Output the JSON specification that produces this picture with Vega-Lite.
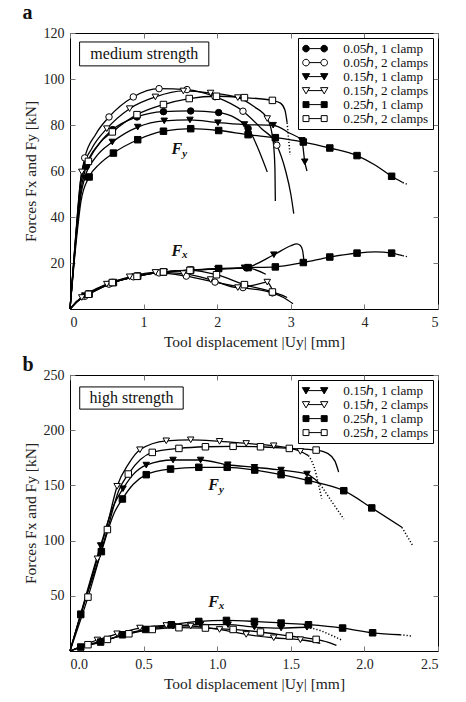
{
  "$schema": "https://vega.github.io/schema/vega-lite/v6.json",
  "background": "white",
  "padding": {"left": 21, "top": 2, "right": 0, "bottom": 0},
  "spacing": 4,
  "config": {
    "font": "Liberation Serif",
    "view": {"stroke": "black", "strokeWidth": 1},
    "axis": {
      "labelFont": "Liberation Serif", "labelFontSize": 14, "labelColor": "#222",
      "titleFont": "Liberation Serif", "titleFontSize": 15.5, "titleFontWeight": "normal", "titleColor": "#222",
      "domain": false, "grid": false, "tickColor": "#777", "tickSize": -5, "labelPadding": 11, "titlePadding": 5
    },
    "legend": {
      "orient": "top-right", "offset": 5, "padding": 4, "strokeColor": "black", "fillColor": "white",
      "cornerRadius": 0, "symbolSize": 49, "symbolStrokeWidth": 1, "symbolOffset": 6.5, "labelOffset": 21.6,
      "labelFont": "Liberation Serif", "labelFontSize": 13.2, "labelColor": "#111", "rowPadding": 0, "labelLimit": 0
    }
  },
  "datasets": {
    "aLine": [
      {"s":"0.05h, 1 clamp","c":"Fy","x":0,"y":0},{"s":"0.05h, 1 clamp","c":"Fy","x":0.08,"y":30},{"s":"0.05h, 1 clamp","c":"Fy","x":0.15,"y":52},{"s":"0.05h, 1 clamp","c":"Fy","x":0.22,"y":62},{"s":"0.05h, 1 clamp","c":"Fy","x":0.4,"y":72},{"s":"0.05h, 1 clamp","c":"Fy","x":0.58,"y":78},{"s":"0.05h, 1 clamp","c":"Fy","x":0.91,"y":83.5},{"s":"0.05h, 1 clamp","c":"Fy","x":1.27,"y":85.8},{"s":"0.05h, 1 clamp","c":"Fy","x":1.64,"y":86.1},{"s":"0.05h, 1 clamp","c":"Fy","x":2.02,"y":85.4},{"s":"0.05h, 1 clamp","c":"Fy","x":2.25,"y":83},{"s":"0.05h, 1 clamp","c":"Fy","x":2.42,"y":78.5},{"s":"0.05h, 1 clamp","c":"Fy","x":2.68,"y":59.6},
      {"s":"0.05h, 1 clamp","c":"Fx","x":0,"y":0},{"s":"0.05h, 1 clamp","c":"Fx","x":0.1,"y":3.5},{"s":"0.05h, 1 clamp","c":"Fx","x":0.25,"y":6.5},{"s":"0.05h, 1 clamp","c":"Fx","x":0.58,"y":11.5},{"s":"0.05h, 1 clamp","c":"Fx","x":0.92,"y":14.3},{"s":"0.05h, 1 clamp","c":"Fx","x":1.27,"y":16.1},{"s":"0.05h, 1 clamp","c":"Fx","x":1.64,"y":16.9},{"s":"0.05h, 1 clamp","c":"Fx","x":2.02,"y":17.4},{"s":"0.05h, 1 clamp","c":"Fx","x":2.4,"y":17.9},{"s":"0.05h, 1 clamp","c":"Fx","x":2.66,"y":15.1},
      {"s":"0.05h, 2 clamps","c":"Fy","x":0,"y":0},{"s":"0.05h, 2 clamps","c":"Fy","x":0.08,"y":33},{"s":"0.05h, 2 clamps","c":"Fy","x":0.14,"y":55},{"s":"0.05h, 2 clamps","c":"Fy","x":0.2,"y":65.7},{"s":"0.05h, 2 clamps","c":"Fy","x":0.35,"y":76},{"s":"0.05h, 2 clamps","c":"Fy","x":0.53,"y":83.5},{"s":"0.05h, 2 clamps","c":"Fy","x":0.86,"y":92.2},{"s":"0.05h, 2 clamps","c":"Fy","x":1.21,"y":95.8},{"s":"0.05h, 2 clamps","c":"Fy","x":1.59,"y":95.4},{"s":"0.05h, 2 clamps","c":"Fy","x":1.97,"y":92.3},{"s":"0.05h, 2 clamps","c":"Fy","x":2.35,"y":86},{"s":"0.05h, 2 clamps","c":"Fy","x":2.6,"y":78.5},{"s":"0.05h, 2 clamps","c":"Fy","x":2.81,"y":71.2},{"s":"0.05h, 2 clamps","c":"Fy","x":2.93,"y":60},{"s":"0.05h, 2 clamps","c":"Fy","x":3.0,"y":50},{"s":"0.05h, 2 clamps","c":"Fy","x":3.04,"y":41.5},
      {"s":"0.05h, 2 clamps","c":"Fx","x":0,"y":0},{"s":"0.05h, 2 clamps","c":"Fx","x":0.1,"y":3.3},{"s":"0.05h, 2 clamps","c":"Fx","x":0.2,"y":5.5},{"s":"0.05h, 2 clamps","c":"Fx","x":0.53,"y":10.8},{"s":"0.05h, 2 clamps","c":"Fx","x":0.86,"y":14},{"s":"0.05h, 2 clamps","c":"Fx","x":1.21,"y":15.7},{"s":"0.05h, 2 clamps","c":"Fx","x":1.58,"y":14.3},{"s":"0.05h, 2 clamps","c":"Fx","x":1.97,"y":11.7},{"s":"0.05h, 2 clamps","c":"Fx","x":2.35,"y":9.3},{"s":"0.05h, 2 clamps","c":"Fx","x":2.75,"y":7},{"s":"0.05h, 2 clamps","c":"Fx","x":2.9,"y":5},{"s":"0.05h, 2 clamps","c":"Fx","x":3.03,"y":2.3},
      {"s":"0.15h, 1 clamp","c":"Fy","x":0,"y":0},{"s":"0.15h, 1 clamp","c":"Fy","x":0.08,"y":30},{"s":"0.15h, 1 clamp","c":"Fy","x":0.15,"y":50},{"s":"0.15h, 1 clamp","c":"Fy","x":0.2,"y":57},{"s":"0.15h, 1 clamp","c":"Fy","x":0.35,"y":66},{"s":"0.15h, 1 clamp","c":"Fy","x":0.575,"y":72.6},{"s":"0.15h, 1 clamp","c":"Fy","x":0.92,"y":79.1},{"s":"0.15h, 1 clamp","c":"Fy","x":1.28,"y":81.8},{"s":"0.15h, 1 clamp","c":"Fy","x":1.63,"y":82.2},{"s":"0.15h, 1 clamp","c":"Fy","x":2.01,"y":81},{"s":"0.15h, 1 clamp","c":"Fy","x":2.37,"y":80.2},{"s":"0.15h, 1 clamp","c":"Fy","x":2.76,"y":79.9},{"s":"0.15h, 1 clamp","c":"Fy","x":2.98,"y":76.5},{"s":"0.15h, 1 clamp","c":"Fy","x":3.15,"y":73.3},{"s":"0.15h, 1 clamp","c":"Fy","x":3.19,"y":64},{"s":"0.15h, 1 clamp","c":"Fy","x":3.22,"y":60},
      {"s":"0.15h, 1 clamp","c":"Fx","x":0,"y":0},{"s":"0.15h, 1 clamp","c":"Fx","x":0.1,"y":3.4},{"s":"0.15h, 1 clamp","c":"Fx","x":0.2,"y":5.8},{"s":"0.15h, 1 clamp","c":"Fx","x":0.575,"y":11.4},{"s":"0.15h, 1 clamp","c":"Fx","x":0.92,"y":14.3},{"s":"0.15h, 1 clamp","c":"Fx","x":1.28,"y":16.1},{"s":"0.15h, 1 clamp","c":"Fx","x":1.63,"y":16.9},{"s":"0.15h, 1 clamp","c":"Fx","x":2.01,"y":17.4},{"s":"0.15h, 1 clamp","c":"Fx","x":2.37,"y":17.9},{"s":"0.15h, 1 clamp","c":"Fx","x":2.77,"y":23.6},{"s":"0.15h, 1 clamp","c":"Fx","x":3.0,"y":27.5},{"s":"0.15h, 1 clamp","c":"Fx","x":3.08,"y":28.3},{"s":"0.15h, 1 clamp","c":"Fx","x":3.13,"y":27.6},{"s":"0.15h, 1 clamp","c":"Fx","x":3.16,"y":25.5},{"s":"0.15h, 1 clamp","c":"Fx","x":3.18,"y":20.4},
      {"s":"0.15h, 2 clamps","c":"Fy","x":0,"y":0},{"s":"0.15h, 2 clamps","c":"Fy","x":0.08,"y":32},{"s":"0.15h, 2 clamps","c":"Fy","x":0.16,"y":59.6},{"s":"0.15h, 2 clamps","c":"Fy","x":0.3,"y":70},{"s":"0.15h, 2 clamps","c":"Fy","x":0.5,"y":78.4},{"s":"0.15h, 2 clamps","c":"Fy","x":0.81,"y":87.1},{"s":"0.15h, 2 clamps","c":"Fy","x":1.16,"y":92.2},{"s":"0.15h, 2 clamps","c":"Fy","x":1.54,"y":94.8},{"s":"0.15h, 2 clamps","c":"Fy","x":1.91,"y":93.9},{"s":"0.15h, 2 clamps","c":"Fy","x":2.28,"y":91.9},{"s":"0.15h, 2 clamps","c":"Fy","x":2.5,"y":88},{"s":"0.15h, 2 clamps","c":"Fy","x":2.68,"y":82.8},{"s":"0.15h, 2 clamps","c":"Fy","x":2.74,"y":77},{"s":"0.15h, 2 clamps","c":"Fy","x":2.77,"y":70},{"s":"0.15h, 2 clamps","c":"Fy","x":2.785,"y":60},{"s":"0.15h, 2 clamps","c":"Fy","x":2.79,"y":47},
      {"s":"0.15h, 2 clamps","c":"Fx","x":0,"y":0},{"s":"0.15h, 2 clamps","c":"Fx","x":0.16,"y":5},{"s":"0.15h, 2 clamps","c":"Fx","x":0.5,"y":10.8},{"s":"0.15h, 2 clamps","c":"Fx","x":0.81,"y":14},{"s":"0.15h, 2 clamps","c":"Fx","x":1.16,"y":15.9},{"s":"0.15h, 2 clamps","c":"Fx","x":1.54,"y":15.4},{"s":"0.15h, 2 clamps","c":"Fx","x":1.91,"y":12.8},{"s":"0.15h, 2 clamps","c":"Fx","x":2.28,"y":9.3},{"s":"0.15h, 2 clamps","c":"Fx","x":2.5,"y":10.4},{"s":"0.15h, 2 clamps","c":"Fx","x":2.68,"y":11.7},{"s":"0.15h, 2 clamps","c":"Fx","x":2.74,"y":9},{"s":"0.15h, 2 clamps","c":"Fx","x":2.79,"y":6},
      {"s":"0.25h, 1 clamp","c":"Fy","x":0,"y":0},{"s":"0.25h, 1 clamp","c":"Fy","x":0.08,"y":28},{"s":"0.25h, 1 clamp","c":"Fy","x":0.15,"y":47},{"s":"0.25h, 1 clamp","c":"Fy","x":0.26,"y":57.4},{"s":"0.25h, 1 clamp","c":"Fy","x":0.4,"y":63},{"s":"0.25h, 1 clamp","c":"Fy","x":0.59,"y":67.8},{"s":"0.25h, 1 clamp","c":"Fy","x":0.92,"y":73.6},{"s":"0.25h, 1 clamp","c":"Fy","x":1.27,"y":77.3},{"s":"0.25h, 1 clamp","c":"Fy","x":1.64,"y":78.4},{"s":"0.25h, 1 clamp","c":"Fy","x":2.02,"y":77.6},{"s":"0.25h, 1 clamp","c":"Fy","x":2.42,"y":75.8},{"s":"0.25h, 1 clamp","c":"Fy","x":2.79,"y":74.5},{"s":"0.25h, 1 clamp","c":"Fy","x":3.17,"y":72.6},{"s":"0.25h, 1 clamp","c":"Fy","x":3.53,"y":70},{"s":"0.25h, 1 clamp","c":"Fy","x":3.9,"y":66.7},{"s":"0.25h, 1 clamp","c":"Fy","x":4.15,"y":62.5},{"s":"0.25h, 1 clamp","c":"Fy","x":4.37,"y":57.7},{"s":"0.25h, 1 clamp","c":"Fy","x":4.52,"y":55},
      {"s":"0.25h, 1 clamp","c":"Fx","x":0,"y":0},{"s":"0.25h, 1 clamp","c":"Fx","x":0.1,"y":3.5},{"s":"0.25h, 1 clamp","c":"Fx","x":0.26,"y":6.5},{"s":"0.25h, 1 clamp","c":"Fx","x":0.59,"y":11.5},{"s":"0.25h, 1 clamp","c":"Fx","x":0.92,"y":14.3},{"s":"0.25h, 1 clamp","c":"Fx","x":1.27,"y":16.1},{"s":"0.25h, 1 clamp","c":"Fx","x":1.64,"y":16.9},{"s":"0.25h, 1 clamp","c":"Fx","x":2.02,"y":17.6},{"s":"0.25h, 1 clamp","c":"Fx","x":2.42,"y":18},{"s":"0.25h, 1 clamp","c":"Fx","x":2.79,"y":18.3},{"s":"0.25h, 1 clamp","c":"Fx","x":3.17,"y":20.2},{"s":"0.25h, 1 clamp","c":"Fx","x":3.53,"y":22.6},{"s":"0.25h, 1 clamp","c":"Fx","x":3.9,"y":24.3},{"s":"0.25h, 1 clamp","c":"Fx","x":4.15,"y":24.8},{"s":"0.25h, 1 clamp","c":"Fx","x":4.37,"y":24.3},{"s":"0.25h, 1 clamp","c":"Fx","x":4.52,"y":23.2},
      {"s":"0.25h, 2 clamps","c":"Fy","x":0,"y":0},{"s":"0.25h, 2 clamps","c":"Fy","x":0.08,"y":32},{"s":"0.25h, 2 clamps","c":"Fy","x":0.15,"y":55},{"s":"0.25h, 2 clamps","c":"Fy","x":0.25,"y":64.2},{"s":"0.25h, 2 clamps","c":"Fy","x":0.4,"y":72},{"s":"0.25h, 2 clamps","c":"Fy","x":0.575,"y":77},{"s":"0.25h, 2 clamps","c":"Fy","x":0.91,"y":84.5},{"s":"0.25h, 2 clamps","c":"Fy","x":1.27,"y":88.9},{"s":"0.25h, 2 clamps","c":"Fy","x":1.62,"y":91.5},{"s":"0.25h, 2 clamps","c":"Fy","x":1.99,"y":92.5},{"s":"0.25h, 2 clamps","c":"Fy","x":2.37,"y":91.9},{"s":"0.25h, 2 clamps","c":"Fy","x":2.75,"y":90.7},{"s":"0.25h, 2 clamps","c":"Fy","x":2.86,"y":89.5},{"s":"0.25h, 2 clamps","c":"Fy","x":2.92,"y":86.5},{"s":"0.25h, 2 clamps","c":"Fy","x":2.95,"y":81},
      {"s":"0.25h, 2 clamps","c":"Fx","x":0,"y":0},{"s":"0.25h, 2 clamps","c":"Fx","x":0.1,"y":3.5},{"s":"0.25h, 2 clamps","c":"Fx","x":0.25,"y":6.4},{"s":"0.25h, 2 clamps","c":"Fx","x":0.575,"y":11.5},{"s":"0.25h, 2 clamps","c":"Fx","x":0.91,"y":14.2},{"s":"0.25h, 2 clamps","c":"Fx","x":1.27,"y":16.1},{"s":"0.25h, 2 clamps","c":"Fx","x":1.63,"y":16.8},{"s":"0.25h, 2 clamps","c":"Fx","x":1.99,"y":14.9},{"s":"0.25h, 2 clamps","c":"Fx","x":2.37,"y":10.6},{"s":"0.25h, 2 clamps","c":"Fx","x":2.75,"y":7.4},{"s":"0.25h, 2 clamps","c":"Fx","x":2.88,"y":6},{"s":"0.25h, 2 clamps","c":"Fx","x":2.95,"y":5}
    ],
    "aTail": [
      {"s":"0.25h, 1 clamp","c":"Fy","x":4.52,"y":55},{"s":"0.25h, 1 clamp","c":"Fy","x":4.6,"y":54},
      {"s":"0.25h, 1 clamp","c":"Fx","x":4.52,"y":23.2},{"s":"0.25h, 1 clamp","c":"Fx","x":4.6,"y":22.6},
      {"s":"0.25h, 2 clamps","c":"Fy","x":2.95,"y":81},{"s":"0.25h, 2 clamps","c":"Fy","x":2.97,"y":74},{"s":"0.25h, 2 clamps","c":"Fy","x":2.99,"y":67}
    ],
    "aMark": [
      {"s":"0.05h, 1 clamp","x":0.22,"y":62},{"s":"0.05h, 1 clamp","x":0.58,"y":78},{"s":"0.05h, 1 clamp","x":0.91,"y":83.5},{"s":"0.05h, 1 clamp","x":1.27,"y":85.8},{"s":"0.05h, 1 clamp","x":1.64,"y":86.1},{"s":"0.05h, 1 clamp","x":2.02,"y":85.4},{"s":"0.05h, 1 clamp","x":2.42,"y":78.5},
      {"s":"0.05h, 1 clamp","x":0.25,"y":6.5},{"s":"0.05h, 1 clamp","x":0.58,"y":11.5},{"s":"0.05h, 1 clamp","x":0.92,"y":14.3},{"s":"0.05h, 1 clamp","x":1.27,"y":16.1},{"s":"0.05h, 1 clamp","x":1.64,"y":16.9},{"s":"0.05h, 1 clamp","x":2.02,"y":17.4},{"s":"0.05h, 1 clamp","x":2.4,"y":17.9},
      {"s":"0.05h, 2 clamps","x":0.2,"y":65.7},{"s":"0.05h, 2 clamps","x":0.53,"y":83.5},{"s":"0.05h, 2 clamps","x":0.86,"y":92.2},{"s":"0.05h, 2 clamps","x":1.21,"y":95.8},{"s":"0.05h, 2 clamps","x":1.59,"y":95.4},{"s":"0.05h, 2 clamps","x":1.97,"y":92.3},{"s":"0.05h, 2 clamps","x":2.35,"y":86},{"s":"0.05h, 2 clamps","x":2.81,"y":71.2},
      {"s":"0.05h, 2 clamps","x":0.2,"y":5.5},{"s":"0.05h, 2 clamps","x":0.53,"y":10.8},{"s":"0.05h, 2 clamps","x":0.86,"y":14},{"s":"0.05h, 2 clamps","x":1.21,"y":15.7},{"s":"0.05h, 2 clamps","x":1.58,"y":14.3},{"s":"0.05h, 2 clamps","x":1.97,"y":11.7},{"s":"0.05h, 2 clamps","x":2.35,"y":9.3},{"s":"0.05h, 2 clamps","x":2.75,"y":7},
      {"s":"0.15h, 1 clamp","x":0.2,"y":57},{"s":"0.15h, 1 clamp","x":0.575,"y":72.6},{"s":"0.15h, 1 clamp","x":0.92,"y":79.1},{"s":"0.15h, 1 clamp","x":1.28,"y":81.8},{"s":"0.15h, 1 clamp","x":1.63,"y":82.2},{"s":"0.15h, 1 clamp","x":2.01,"y":81},{"s":"0.15h, 1 clamp","x":2.37,"y":80.2},{"s":"0.15h, 1 clamp","x":2.76,"y":79.9},{"s":"0.15h, 1 clamp","x":3.15,"y":73.3},{"s":"0.15h, 1 clamp","x":3.19,"y":64},
      {"s":"0.15h, 1 clamp","x":0.2,"y":5.8},{"s":"0.15h, 1 clamp","x":0.575,"y":11.4},{"s":"0.15h, 1 clamp","x":0.92,"y":14.3},{"s":"0.15h, 1 clamp","x":1.28,"y":16.1},{"s":"0.15h, 1 clamp","x":1.63,"y":16.9},{"s":"0.15h, 1 clamp","x":2.01,"y":17.4},{"s":"0.15h, 1 clamp","x":2.37,"y":17.9},{"s":"0.15h, 1 clamp","x":2.77,"y":23.6},
      {"s":"0.15h, 2 clamps","x":0.16,"y":59.6},{"s":"0.15h, 2 clamps","x":0.5,"y":78.4},{"s":"0.15h, 2 clamps","x":0.81,"y":87.1},{"s":"0.15h, 2 clamps","x":1.16,"y":92.2},{"s":"0.15h, 2 clamps","x":1.54,"y":94.8},{"s":"0.15h, 2 clamps","x":1.91,"y":93.9},{"s":"0.15h, 2 clamps","x":2.28,"y":91.9},{"s":"0.15h, 2 clamps","x":2.68,"y":82.8},
      {"s":"0.15h, 2 clamps","x":0.16,"y":5},{"s":"0.15h, 2 clamps","x":0.5,"y":10.8},{"s":"0.15h, 2 clamps","x":0.81,"y":14},{"s":"0.15h, 2 clamps","x":1.16,"y":15.9},{"s":"0.15h, 2 clamps","x":1.54,"y":15.4},{"s":"0.15h, 2 clamps","x":1.91,"y":12.8},{"s":"0.15h, 2 clamps","x":2.28,"y":9.3},{"s":"0.15h, 2 clamps","x":2.68,"y":11.7},
      {"s":"0.25h, 1 clamp","x":0.26,"y":57.4},{"s":"0.25h, 1 clamp","x":0.59,"y":67.8},{"s":"0.25h, 1 clamp","x":0.92,"y":73.6},{"s":"0.25h, 1 clamp","x":1.27,"y":77.3},{"s":"0.25h, 1 clamp","x":1.64,"y":78.4},{"s":"0.25h, 1 clamp","x":2.02,"y":77.6},{"s":"0.25h, 1 clamp","x":2.42,"y":75.8},{"s":"0.25h, 1 clamp","x":2.79,"y":74.5},{"s":"0.25h, 1 clamp","x":3.17,"y":72.6},{"s":"0.25h, 1 clamp","x":3.53,"y":70},{"s":"0.25h, 1 clamp","x":3.9,"y":66.7},{"s":"0.25h, 1 clamp","x":4.37,"y":57.7},
      {"s":"0.25h, 1 clamp","x":0.26,"y":6.5},{"s":"0.25h, 1 clamp","x":0.59,"y":11.5},{"s":"0.25h, 1 clamp","x":0.92,"y":14.3},{"s":"0.25h, 1 clamp","x":1.27,"y":16.1},{"s":"0.25h, 1 clamp","x":1.64,"y":16.9},{"s":"0.25h, 1 clamp","x":2.02,"y":17.6},{"s":"0.25h, 1 clamp","x":2.42,"y":18},{"s":"0.25h, 1 clamp","x":2.79,"y":18.3},{"s":"0.25h, 1 clamp","x":3.17,"y":20.2},{"s":"0.25h, 1 clamp","x":3.53,"y":22.6},{"s":"0.25h, 1 clamp","x":3.9,"y":24.3},{"s":"0.25h, 1 clamp","x":4.37,"y":24.3},
      {"s":"0.25h, 2 clamps","x":0.25,"y":64.2},{"s":"0.25h, 2 clamps","x":0.575,"y":77},{"s":"0.25h, 2 clamps","x":0.91,"y":84.5},{"s":"0.25h, 2 clamps","x":1.27,"y":88.9},{"s":"0.25h, 2 clamps","x":1.62,"y":91.5},{"s":"0.25h, 2 clamps","x":1.99,"y":92.5},{"s":"0.25h, 2 clamps","x":2.37,"y":91.9},{"s":"0.25h, 2 clamps","x":2.75,"y":90.7},
      {"s":"0.25h, 2 clamps","x":0.25,"y":6.4},{"s":"0.25h, 2 clamps","x":0.575,"y":11.5},{"s":"0.25h, 2 clamps","x":0.91,"y":14.2},{"s":"0.25h, 2 clamps","x":1.27,"y":16.1},{"s":"0.25h, 2 clamps","x":1.63,"y":16.8},{"s":"0.25h, 2 clamps","x":1.99,"y":14.9},{"s":"0.25h, 2 clamps","x":2.37,"y":10.6},{"s":"0.25h, 2 clamps","x":2.75,"y":7.4}
    ],
    "bLine": [
      {"s":"0.15h, 1 clamp","c":"Fy","x":0,"y":0},{"s":"0.15h, 1 clamp","c":"Fy","x":0.073,"y":33.7},{"s":"0.15h, 1 clamp","c":"Fy","x":0.208,"y":95.5},{"s":"0.15h, 1 clamp","c":"Fy","x":0.3,"y":133},{"s":"0.15h, 1 clamp","c":"Fy","x":0.36,"y":147},{"s":"0.15h, 1 clamp","c":"Fy","x":0.43,"y":160},{"s":"0.15h, 1 clamp","c":"Fy","x":0.518,"y":168.4},{"s":"0.15h, 1 clamp","c":"Fy","x":0.7,"y":173},{"s":"0.15h, 1 clamp","c":"Fy","x":0.887,"y":173},{"s":"0.15h, 1 clamp","c":"Fy","x":1.072,"y":168.7},{"s":"0.15h, 1 clamp","c":"Fy","x":1.253,"y":166.4},{"s":"0.15h, 1 clamp","c":"Fy","x":1.434,"y":163.9},{"s":"0.15h, 1 clamp","c":"Fy","x":1.61,"y":160.3},{"s":"0.15h, 1 clamp","c":"Fy","x":1.66,"y":156},{"s":"0.15h, 1 clamp","c":"Fy","x":1.7,"y":151},
      {"s":"0.15h, 1 clamp","c":"Fx","x":0,"y":0},{"s":"0.15h, 1 clamp","c":"Fx","x":0.073,"y":3.4},{"s":"0.15h, 1 clamp","c":"Fx","x":0.208,"y":8},{"s":"0.15h, 1 clamp","c":"Fx","x":0.36,"y":14.5},{"s":"0.15h, 1 clamp","c":"Fx","x":0.518,"y":19.3},{"s":"0.15h, 1 clamp","c":"Fx","x":0.7,"y":22.5},{"s":"0.15h, 1 clamp","c":"Fx","x":0.887,"y":24},{"s":"0.15h, 1 clamp","c":"Fx","x":1.074,"y":23.8},{"s":"0.15h, 1 clamp","c":"Fx","x":1.253,"y":21.7},{"s":"0.15h, 1 clamp","c":"Fx","x":1.434,"y":20.8},{"s":"0.15h, 1 clamp","c":"Fx","x":1.61,"y":21.5},
      {"s":"0.15h, 2 clamps","c":"Fy","x":0,"y":0},{"s":"0.15h, 2 clamps","c":"Fy","x":0.08,"y":36},{"s":"0.15h, 2 clamps","c":"Fy","x":0.186,"y":83.5},{"s":"0.15h, 2 clamps","c":"Fy","x":0.26,"y":118},{"s":"0.15h, 2 clamps","c":"Fy","x":0.32,"y":149.2},{"s":"0.15h, 2 clamps","c":"Fy","x":0.4,"y":170},{"s":"0.15h, 2 clamps","c":"Fy","x":0.475,"y":182.3},{"s":"0.15h, 2 clamps","c":"Fy","x":0.654,"y":190.4},{"s":"0.15h, 2 clamps","c":"Fy","x":0.82,"y":191.3},{"s":"0.15h, 2 clamps","c":"Fy","x":1.016,"y":189.9},{"s":"0.15h, 2 clamps","c":"Fy","x":1.197,"y":188},{"s":"0.15h, 2 clamps","c":"Fy","x":1.384,"y":185.9},{"s":"0.15h, 2 clamps","c":"Fy","x":1.565,"y":180.8},{"s":"0.15h, 2 clamps","c":"Fy","x":1.62,"y":177},
      {"s":"0.15h, 2 clamps","c":"Fx","x":0,"y":0},{"s":"0.15h, 2 clamps","c":"Fx","x":0.08,"y":4.5},{"s":"0.15h, 2 clamps","c":"Fx","x":0.186,"y":10},{"s":"0.15h, 2 clamps","c":"Fx","x":0.32,"y":15.6},{"s":"0.15h, 2 clamps","c":"Fx","x":0.475,"y":20.8},{"s":"0.15h, 2 clamps","c":"Fx","x":0.654,"y":23.1},{"s":"0.15h, 2 clamps","c":"Fx","x":0.82,"y":22.6},{"s":"0.15h, 2 clamps","c":"Fx","x":1.016,"y":19.5},{"s":"0.15h, 2 clamps","c":"Fx","x":1.197,"y":15},{"s":"0.15h, 2 clamps","c":"Fx","x":1.384,"y":12},{"s":"0.15h, 2 clamps","c":"Fx","x":1.565,"y":10.2},{"s":"0.15h, 2 clamps","c":"Fx","x":1.65,"y":8.5},{"s":"0.15h, 2 clamps","c":"Fx","x":1.7,"y":7},
      {"s":"0.25h, 1 clamp","c":"Fy","x":0,"y":0},{"s":"0.25h, 1 clamp","c":"Fy","x":0.073,"y":33},{"s":"0.25h, 1 clamp","c":"Fy","x":0.213,"y":90},{"s":"0.25h, 1 clamp","c":"Fy","x":0.3,"y":125},{"s":"0.25h, 1 clamp","c":"Fy","x":0.356,"y":137.7},{"s":"0.25h, 1 clamp","c":"Fy","x":0.43,"y":151},{"s":"0.25h, 1 clamp","c":"Fy","x":0.518,"y":159.7},{"s":"0.25h, 1 clamp","c":"Fy","x":0.683,"y":164.8},{"s":"0.25h, 1 clamp","c":"Fy","x":0.875,"y":166.4},{"s":"0.25h, 1 clamp","c":"Fy","x":1.068,"y":166.4},{"s":"0.25h, 1 clamp","c":"Fy","x":1.255,"y":163.9},{"s":"0.25h, 1 clamp","c":"Fy","x":1.434,"y":159.7},{"s":"0.25h, 1 clamp","c":"Fy","x":1.62,"y":154.3},{"s":"0.25h, 1 clamp","c":"Fy","x":1.86,"y":145.2},{"s":"0.25h, 1 clamp","c":"Fy","x":2.05,"y":129.6},{"s":"0.25h, 1 clamp","c":"Fy","x":2.255,"y":112},
      {"s":"0.25h, 1 clamp","c":"Fx","x":0,"y":0},{"s":"0.25h, 1 clamp","c":"Fx","x":0.073,"y":3.6},{"s":"0.25h, 1 clamp","c":"Fx","x":0.208,"y":8.1},{"s":"0.25h, 1 clamp","c":"Fx","x":0.356,"y":14.7},{"s":"0.25h, 1 clamp","c":"Fx","x":0.514,"y":19.5},{"s":"0.25h, 1 clamp","c":"Fx","x":0.688,"y":23.8},{"s":"0.25h, 1 clamp","c":"Fx","x":0.875,"y":26.8},{"s":"0.25h, 1 clamp","c":"Fx","x":1.063,"y":27.7},{"s":"0.25h, 1 clamp","c":"Fx","x":1.253,"y":26.8},{"s":"0.25h, 1 clamp","c":"Fx","x":1.434,"y":25.3},{"s":"0.25h, 1 clamp","c":"Fx","x":1.62,"y":23.8},{"s":"0.25h, 1 clamp","c":"Fx","x":1.852,"y":20.8},{"s":"0.25h, 1 clamp","c":"Fx","x":2.056,"y":16.5},{"s":"0.25h, 1 clamp","c":"Fx","x":2.243,"y":14.7},
      {"s":"0.25h, 2 clamps","c":"Fy","x":0,"y":0},{"s":"0.25h, 2 clamps","c":"Fy","x":0.122,"y":48.8},{"s":"0.25h, 2 clamps","c":"Fy","x":0.254,"y":110},{"s":"0.25h, 2 clamps","c":"Fy","x":0.33,"y":145},{"s":"0.25h, 2 clamps","c":"Fy","x":0.396,"y":160.3},{"s":"0.25h, 2 clamps","c":"Fy","x":0.559,"y":179.9},{"s":"0.25h, 2 clamps","c":"Fy","x":0.74,"y":183.5},{"s":"0.25h, 2 clamps","c":"Fy","x":0.92,"y":185},{"s":"0.25h, 2 clamps","c":"Fy","x":1.108,"y":185.4},{"s":"0.25h, 2 clamps","c":"Fy","x":1.294,"y":185},{"s":"0.25h, 2 clamps","c":"Fy","x":1.49,"y":183.5},{"s":"0.25h, 2 clamps","c":"Fy","x":1.672,"y":182},{"s":"0.25h, 2 clamps","c":"Fy","x":1.75,"y":179},{"s":"0.25h, 2 clamps","c":"Fy","x":1.8,"y":172},{"s":"0.25h, 2 clamps","c":"Fy","x":1.825,"y":162},
      {"s":"0.25h, 2 clamps","c":"Fx","x":0,"y":0},{"s":"0.25h, 2 clamps","c":"Fx","x":0.122,"y":5.7},{"s":"0.25h, 2 clamps","c":"Fx","x":0.254,"y":10.5},{"s":"0.25h, 2 clamps","c":"Fx","x":0.4,"y":15.6},{"s":"0.25h, 2 clamps","c":"Fx","x":0.559,"y":19.5},{"s":"0.25h, 2 clamps","c":"Fx","x":0.74,"y":21.1},{"s":"0.25h, 2 clamps","c":"Fx","x":0.92,"y":20.8},{"s":"0.25h, 2 clamps","c":"Fx","x":1.108,"y":19.5},{"s":"0.25h, 2 clamps","c":"Fx","x":1.294,"y":17.2},{"s":"0.25h, 2 clamps","c":"Fx","x":1.49,"y":13.6},{"s":"0.25h, 2 clamps","c":"Fx","x":1.672,"y":10.5},{"s":"0.25h, 2 clamps","c":"Fx","x":1.75,"y":8},{"s":"0.25h, 2 clamps","c":"Fx","x":1.81,"y":5.1}
    ],
    "bTail": [
      {"s":"0.15h, 1 clamp","c":"Fy","x":1.7,"y":151},{"s":"0.15h, 1 clamp","c":"Fy","x":1.78,"y":135},{"s":"0.15h, 1 clamp","c":"Fy","x":1.86,"y":119.6},
      {"s":"0.15h, 1 clamp","c":"Fx","x":1.61,"y":21.5},{"s":"0.15h, 1 clamp","c":"Fx","x":1.7,"y":18.5},{"s":"0.15h, 1 clamp","c":"Fx","x":1.78,"y":14},{"s":"0.15h, 1 clamp","c":"Fx","x":1.85,"y":9.6},
      {"s":"0.15h, 2 clamps","c":"Fy","x":1.62,"y":177},{"s":"0.15h, 2 clamps","c":"Fy","x":1.66,"y":166},{"s":"0.15h, 2 clamps","c":"Fy","x":1.69,"y":150},{"s":"0.15h, 2 clamps","c":"Fy","x":1.71,"y":138},
      {"s":"0.25h, 1 clamp","c":"Fy","x":2.255,"y":112},{"s":"0.25h, 1 clamp","c":"Fy","x":2.33,"y":95},
      {"s":"0.25h, 1 clamp","c":"Fx","x":2.243,"y":14.7},{"s":"0.25h, 1 clamp","c":"Fx","x":2.32,"y":13.6}
    ],
    "bMark": [
      {"s":"0.15h, 1 clamp","x":0.073,"y":33.7},{"s":"0.15h, 1 clamp","x":0.208,"y":95.5},{"s":"0.15h, 1 clamp","x":0.36,"y":147},{"s":"0.15h, 1 clamp","x":0.518,"y":168.4},{"s":"0.15h, 1 clamp","x":0.7,"y":173},{"s":"0.15h, 1 clamp","x":0.887,"y":173},{"s":"0.15h, 1 clamp","x":1.072,"y":168.7},{"s":"0.15h, 1 clamp","x":1.253,"y":166.4},{"s":"0.15h, 1 clamp","x":1.434,"y":163.9},{"s":"0.15h, 1 clamp","x":1.61,"y":160.3},
      {"s":"0.15h, 1 clamp","x":0.073,"y":3.4},{"s":"0.15h, 1 clamp","x":0.208,"y":8},{"s":"0.15h, 1 clamp","x":0.36,"y":14.5},{"s":"0.15h, 1 clamp","x":0.518,"y":19.3},{"s":"0.15h, 1 clamp","x":0.7,"y":22.5},{"s":"0.15h, 1 clamp","x":0.887,"y":24},{"s":"0.15h, 1 clamp","x":1.074,"y":23.8},{"s":"0.15h, 1 clamp","x":1.253,"y":21.7},{"s":"0.15h, 1 clamp","x":1.434,"y":20.8},{"s":"0.15h, 1 clamp","x":1.61,"y":21.5},
      {"s":"0.15h, 2 clamps","x":0.186,"y":83.5},{"s":"0.15h, 2 clamps","x":0.32,"y":149.2},{"s":"0.15h, 2 clamps","x":0.475,"y":182.3},{"s":"0.15h, 2 clamps","x":0.654,"y":190.4},{"s":"0.15h, 2 clamps","x":0.82,"y":191.3},{"s":"0.15h, 2 clamps","x":1.016,"y":189.9},{"s":"0.15h, 2 clamps","x":1.197,"y":188},{"s":"0.15h, 2 clamps","x":1.384,"y":185.9},{"s":"0.15h, 2 clamps","x":1.565,"y":180.8},
      {"s":"0.15h, 2 clamps","x":0.186,"y":10},{"s":"0.15h, 2 clamps","x":0.32,"y":15.6},{"s":"0.15h, 2 clamps","x":0.475,"y":20.8},{"s":"0.15h, 2 clamps","x":0.654,"y":23.1},{"s":"0.15h, 2 clamps","x":0.82,"y":22.6},{"s":"0.15h, 2 clamps","x":1.016,"y":19.5},{"s":"0.15h, 2 clamps","x":1.197,"y":15},{"s":"0.15h, 2 clamps","x":1.384,"y":12},{"s":"0.15h, 2 clamps","x":1.565,"y":10.2},
      {"s":"0.25h, 1 clamp","x":0.073,"y":33},{"s":"0.25h, 1 clamp","x":0.213,"y":90},{"s":"0.25h, 1 clamp","x":0.356,"y":137.7},{"s":"0.25h, 1 clamp","x":0.518,"y":159.7},{"s":"0.25h, 1 clamp","x":0.683,"y":164.8},{"s":"0.25h, 1 clamp","x":0.875,"y":166.4},{"s":"0.25h, 1 clamp","x":1.068,"y":166.4},{"s":"0.25h, 1 clamp","x":1.255,"y":163.9},{"s":"0.25h, 1 clamp","x":1.434,"y":159.7},{"s":"0.25h, 1 clamp","x":1.62,"y":154.3},{"s":"0.25h, 1 clamp","x":1.86,"y":145.2},{"s":"0.25h, 1 clamp","x":2.05,"y":129.6},
      {"s":"0.25h, 1 clamp","x":0.073,"y":3.6},{"s":"0.25h, 1 clamp","x":0.208,"y":8.1},{"s":"0.25h, 1 clamp","x":0.356,"y":14.7},{"s":"0.25h, 1 clamp","x":0.514,"y":19.5},{"s":"0.25h, 1 clamp","x":0.688,"y":23.8},{"s":"0.25h, 1 clamp","x":0.875,"y":26.8},{"s":"0.25h, 1 clamp","x":1.063,"y":27.7},{"s":"0.25h, 1 clamp","x":1.253,"y":26.8},{"s":"0.25h, 1 clamp","x":1.434,"y":25.3},{"s":"0.25h, 1 clamp","x":1.62,"y":23.8},{"s":"0.25h, 1 clamp","x":1.852,"y":20.8},{"s":"0.25h, 1 clamp","x":2.056,"y":16.5},
      {"s":"0.25h, 2 clamps","x":0.122,"y":48.8},{"s":"0.25h, 2 clamps","x":0.254,"y":110},{"s":"0.25h, 2 clamps","x":0.396,"y":160.3},{"s":"0.25h, 2 clamps","x":0.559,"y":179.9},{"s":"0.25h, 2 clamps","x":0.74,"y":183.5},{"s":"0.25h, 2 clamps","x":0.92,"y":185},{"s":"0.25h, 2 clamps","x":1.108,"y":185.4},{"s":"0.25h, 2 clamps","x":1.294,"y":185},{"s":"0.25h, 2 clamps","x":1.49,"y":183.5},{"s":"0.25h, 2 clamps","x":1.672,"y":182},
      {"s":"0.25h, 2 clamps","x":0.122,"y":5.7},{"s":"0.25h, 2 clamps","x":0.254,"y":10.5},{"s":"0.25h, 2 clamps","x":0.4,"y":15.6},{"s":"0.25h, 2 clamps","x":0.559,"y":19.5},{"s":"0.25h, 2 clamps","x":0.74,"y":21.1},{"s":"0.25h, 2 clamps","x":0.92,"y":20.8},{"s":"0.25h, 2 clamps","x":1.108,"y":19.5},{"s":"0.25h, 2 clamps","x":1.294,"y":17.2},{"s":"0.25h, 2 clamps","x":1.49,"y":13.6},{"s":"0.25h, 2 clamps","x":1.672,"y":10.5}
    ]
  },
  "vconcat": [
    {
      "width": 368, "height": 276,
      "resolve": {"scale": {"shape": "independent", "fill": "independent"}},
      "layer": [
        {
          "data": {"name": "aLine"},
          "mark": {"type": "line", "interpolate": "monotone", "stroke": "black", "strokeWidth": 1.3},
          "encoding": {
            "x": {"field": "x", "type": "quantitative", "scale": {"domain": [0, 5], "nice": false},
                  "axis": {"orient": "bottom", "values": [0, 1, 2, 3, 4, 5], "title": "Tool displacement |Uy| [mm]"}},
            "y": {"field": "y", "type": "quantitative", "scale": {"domain": [0, 120], "nice": false},
                  "axis": {"orient": "left", "values": [20, 40, 60, 80, 100, 120], "title": "Forces Fx and Fy [kN]"}},
            "detail": [{"field": "s"}, {"field": "c"}]
          }
        },
        {
          "data": {"name": "aTail"},
          "mark": {"type": "line", "interpolate": "monotone", "stroke": "black", "strokeWidth": 1.5, "strokeDash": [1.2, 2]},
          "encoding": {
            "x": {"field": "x", "type": "quantitative", "axis": null},
            "y": {"field": "y", "type": "quantitative", "axis": null},
            "detail": [{"field": "s"}, {"field": "c"}]
          }
        },
        {
          "data": {"values": [{}]},
          "mark": {"type": "text", "text": "a", "align": "left", "baseline": "alphabetic", "font": "Liberation Serif", "fontSize": 20, "fontWeight": "bold", "color": "#111"},
          "encoding": {"x": {"datum": -0.646, "axis": null}, "y": {"datum": 126.3, "axis": null}}
        },
        {
          "data": {"values": [{}]},
          "mark": {"type": "rect", "fill": "white", "stroke": "black", "strokeWidth": 1},
          "encoding": {
            "x": {"datum": 0.13, "axis": null}, "x2": {"datum": 1.886},
            "y": {"datum": 116.1, "axis": null}, "y2": {"datum": 105.7}
          }
        },
        {
          "data": {"values": [{}]},
          "mark": {"type": "text", "text": "medium strength", "font": "Liberation Serif", "fontSize": 16, "color": "#111"},
          "encoding": {"x": {"datum": 1.01, "axis": null}, "y": {"datum": 110.9, "axis": null}}
        },
        {
          "data": {"values": [{}]},
          "mark": {"type": "text", "text": "F", "font": "Liberation Serif", "fontSize": 16, "fontStyle": "italic", "fontWeight": "bold", "color": "#111"},
          "encoding": {"x": {"datum": 1.45, "axis": null}, "y": {"datum": 69.7, "axis": null}}
        },
        {
          "data": {"values": [{}]},
          "mark": {"type": "text", "text": "y", "dx": 8, "dy": 5, "font": "Liberation Serif", "fontSize": 11, "fontStyle": "italic", "fontWeight": "bold", "color": "#111"},
          "encoding": {"x": {"datum": 1.45, "axis": null}, "y": {"datum": 69.7, "axis": null}}
        },
        {
          "data": {"values": [{}]},
          "mark": {"type": "text", "text": "F", "font": "Liberation Serif", "fontSize": 16, "fontStyle": "italic", "fontWeight": "bold", "color": "#111"},
          "encoding": {"x": {"datum": 1.45, "axis": null}, "y": {"datum": 25.2, "axis": null}}
        },
        {
          "data": {"values": [{}]},
          "mark": {"type": "text", "text": "x", "dx": 8, "dy": 4, "font": "Liberation Serif", "fontSize": 11, "fontStyle": "italic", "fontWeight": "bold", "color": "#111"},
          "encoding": {"x": {"datum": 1.45, "axis": null}, "y": {"datum": 25.2, "axis": null}}
        },
        {
          "data": {"name": "aMark"},
          "mark": {"type": "point", "stroke": "black", "strokeWidth": 1, "opacity": 1, "size": 42},
          "encoding": {
            "x": {"field": "x", "type": "quantitative", "axis": {"orient": "top", "values": [0, 1, 2, 3, 4, 5], "labels": false, "title": null}},
            "y": {"field": "y", "type": "quantitative", "axis": {"orient": "right", "values": [20, 40, 60, 80, 100, 120], "labels": false, "title": null}},
            "shape": {"field": "s", "type": "nominal", "legend": null,
                      "scale": {"domain": ["0.05h, 1 clamp", "0.05h, 2 clamps", "0.15h, 1 clamp", "0.15h, 2 clamps", "0.25h, 1 clamp", "0.25h, 2 clamps"],
                                "range": ["circle", "circle", "triangle-down", "triangle-down", "square", "square"]}},
            "fill": {"field": "s", "type": "nominal", "legend": null,
                     "scale": {"domain": ["0.05h, 1 clamp", "0.05h, 2 clamps", "0.15h, 1 clamp", "0.15h, 2 clamps", "0.25h, 1 clamp", "0.25h, 2 clamps"],
                               "range": ["black", "white", "black", "white", "black", "white"]}}
          }
        },
        {
          "data": {"name": "aMark"},
          "transform": [{"filter": "false"}],
          "mark": {"type": "point", "stroke": "black", "strokeWidth": 1, "opacity": 1},
          "encoding": {
            "shape": {"field": "s", "type": "nominal",
                      "scale": {"domain": ["0.05h, 1 clamp", "0.05h, 2 clamps", "0.15h, 1 clamp", "0.15h, 2 clamps", "0.25h, 1 clamp", "0.25h, 2 clamps"],
                                "range": [
                                  "M-3.55,0A0.95,0.95,0,1,0,-1.65,0A0.95,0.95,0,1,0,-3.55,0ZM-1.65,0L1.65,0M1.65,0A0.95,0.95,0,1,0,3.55,0A0.95,0.95,0,1,0,1.65,0Z",
                                  "M-3.55,0A0.95,0.95,0,1,0,-1.65,0A0.95,0.95,0,1,0,-3.55,0ZM-1.65,0L1.65,0M1.65,0A0.95,0.95,0,1,0,3.55,0A0.95,0.95,0,1,0,1.65,0Z",
                                  "M-3.65,-0.85L-1.55,-0.85L-2.6,0.95ZM-2.05,0L2.05,0M1.55,-0.85L3.65,-0.85L2.6,0.95Z",
                                  "M-3.65,-0.85L-1.55,-0.85L-2.6,0.95ZM-2.05,0L2.05,0M1.55,-0.85L3.65,-0.85L2.6,0.95Z",
                                  "M-3.45,-0.85H-1.75V0.85H-3.45ZM-1.75,0L1.75,0M1.75,-0.85H3.45V0.85H1.75Z",
                                  "M-3.45,-0.85H-1.75V0.85H-3.45ZM-1.75,0L1.75,0M1.75,-0.85H3.45V0.85H1.75Z"]},
                      "legend": {"title": null, "symbolSize": 49, "rowPadding": 0, "labelExpr": "replace(datum.label, 'h', 'ℎ')"}},
            "fill": {"field": "s", "type": "nominal",
                     "scale": {"domain": ["0.05h, 1 clamp", "0.05h, 2 clamps", "0.15h, 1 clamp", "0.15h, 2 clamps", "0.25h, 1 clamp", "0.25h, 2 clamps"],
                               "range": ["black", "white", "black", "white", "black", "white"]},
                     "legend": {"title": null, "symbolSize": 49, "rowPadding": 0, "labelExpr": "replace(datum.label, 'h', 'ℎ')"}}
          }
        }
      ]
    },
    {
      "width": 368, "height": 276,
      "resolve": {"scale": {"shape": "independent", "fill": "independent"}},
      "layer": [
        {
          "data": {"name": "bLine"},
          "mark": {"type": "line", "interpolate": "monotone", "stroke": "black", "strokeWidth": 1.3},
          "encoding": {
            "x": {"field": "x", "type": "quantitative", "scale": {"domain": [0, 2.5], "nice": false},
                  "axis": {"orient": "bottom", "values": [0, 0.5, 1, 1.5, 2, 2.5], "format": ".1f", "title": "Tool displacement |Uy| [mm]"}},
            "y": {"field": "y", "type": "quantitative", "scale": {"domain": [0, 250], "nice": false},
                  "axis": {"orient": "left", "values": [50, 100, 150, 200, 250], "title": "Forces Fx and Fy [kN]"}},
            "detail": [{"field": "s"}, {"field": "c"}]
          }
        },
        {
          "data": {"name": "bTail"},
          "mark": {"type": "line", "interpolate": "monotone", "stroke": "black", "strokeWidth": 1.5, "strokeDash": [1.2, 2]},
          "encoding": {
            "x": {"field": "x", "type": "quantitative", "axis": null},
            "y": {"field": "y", "type": "quantitative", "axis": null},
            "detail": [{"field": "s"}, {"field": "c"}]
          }
        },
        {
          "data": {"values": [{}]},
          "mark": {"type": "text", "text": "b", "align": "left", "baseline": "alphabetic", "font": "Liberation Serif", "fontSize": 20, "fontWeight": "bold", "color": "#111"},
          "encoding": {"x": {"datum": -0.323, "axis": null}, "y": {"datum": 253.7, "axis": null}}
        },
        {
          "data": {"values": [{}]},
          "mark": {"type": "rect", "fill": "white", "stroke": "black", "strokeWidth": 1},
          "encoding": {
            "x": {"datum": 0.066, "axis": null}, "x2": {"datum": 0.769},
            "y": {"datum": 239.2, "axis": null}, "y2": {"datum": 219.1}
          }
        },
        {
          "data": {"values": [{}]},
          "mark": {"type": "text", "text": "high strength", "font": "Liberation Serif", "fontSize": 16, "color": "#111"},
          "encoding": {"x": {"datum": 0.4175, "axis": null}, "y": {"datum": 229, "axis": null}}
        },
        {
          "data": {"values": [{}]},
          "mark": {"type": "text", "text": "F", "font": "Liberation Serif", "fontSize": 16, "fontStyle": "italic", "fontWeight": "bold", "color": "#111"},
          "encoding": {"x": {"datum": 0.975, "axis": null}, "y": {"datum": 150.8, "axis": null}}
        },
        {
          "data": {"values": [{}]},
          "mark": {"type": "text", "text": "y", "dx": 8, "dy": 5, "font": "Liberation Serif", "fontSize": 11, "fontStyle": "italic", "fontWeight": "bold", "color": "#111"},
          "encoding": {"x": {"datum": 0.975, "axis": null}, "y": {"datum": 150.8, "axis": null}}
        },
        {
          "data": {"values": [{}]},
          "mark": {"type": "text", "text": "F", "font": "Liberation Serif", "fontSize": 16, "fontStyle": "italic", "fontWeight": "bold", "color": "#111"},
          "encoding": {"x": {"datum": 0.975, "axis": null}, "y": {"datum": 44.6, "axis": null}}
        },
        {
          "data": {"values": [{}]},
          "mark": {"type": "text", "text": "x", "dx": 8, "dy": 4, "font": "Liberation Serif", "fontSize": 11, "fontStyle": "italic", "fontWeight": "bold", "color": "#111"},
          "encoding": {"x": {"datum": 0.975, "axis": null}, "y": {"datum": 44.6, "axis": null}}
        },
        {
          "data": {"name": "bMark"},
          "mark": {"type": "point", "stroke": "black", "strokeWidth": 1, "opacity": 1, "size": 42},
          "encoding": {
            "x": {"field": "x", "type": "quantitative", "axis": {"orient": "top", "values": [0, 0.5, 1, 1.5, 2, 2.5], "labels": false, "title": null}},
            "y": {"field": "y", "type": "quantitative", "axis": {"orient": "right", "values": [50, 100, 150, 200, 250], "labels": false, "title": null}},
            "shape": {"field": "s", "type": "nominal", "legend": null,
                      "scale": {"domain": ["0.15h, 1 clamp", "0.15h, 2 clamps", "0.25h, 1 clamp", "0.25h, 2 clamps"],
                                "range": ["triangle-down", "triangle-down", "square", "square"]}},
            "fill": {"field": "s", "type": "nominal", "legend": null,
                     "scale": {"domain": ["0.15h, 1 clamp", "0.15h, 2 clamps", "0.25h, 1 clamp", "0.25h, 2 clamps"],
                               "range": ["black", "white", "black", "white"]}}
          }
        },
        {
          "data": {"name": "bMark"},
          "transform": [{"filter": "false"}],
          "mark": {"type": "point", "stroke": "black", "strokeWidth": 1, "opacity": 1},
          "encoding": {
            "shape": {"field": "s", "type": "nominal",
                      "scale": {"domain": ["0.15h, 1 clamp", "0.15h, 2 clamps", "0.25h, 1 clamp", "0.25h, 2 clamps"],
                                "range": [
                                  "M-3.65,-0.85L-1.55,-0.85L-2.6,0.95ZM-2.05,0L2.05,0M1.55,-0.85L3.65,-0.85L2.6,0.95Z",
                                  "M-3.65,-0.85L-1.55,-0.85L-2.6,0.95ZM-2.05,0L2.05,0M1.55,-0.85L3.65,-0.85L2.6,0.95Z",
                                  "M-3.45,-0.85H-1.75V0.85H-3.45ZM-1.75,0L1.75,0M1.75,-0.85H3.45V0.85H1.75Z",
                                  "M-3.45,-0.85H-1.75V0.85H-3.45ZM-1.75,0L1.75,0M1.75,-0.85H3.45V0.85H1.75Z"]},
                      "legend": {"title": null, "symbolSize": 49, "rowPadding": 0, "labelExpr": "replace(datum.label, 'h', 'ℎ')"}},
            "fill": {"field": "s", "type": "nominal",
                     "scale": {"domain": ["0.15h, 1 clamp", "0.15h, 2 clamps", "0.25h, 1 clamp", "0.25h, 2 clamps"],
                               "range": ["black", "white", "black", "white"]},
                     "legend": {"title": null, "symbolSize": 49, "rowPadding": 0, "labelExpr": "replace(datum.label, 'h', 'ℎ')"}}
          }
        }
      ]
    }
  ]
}
